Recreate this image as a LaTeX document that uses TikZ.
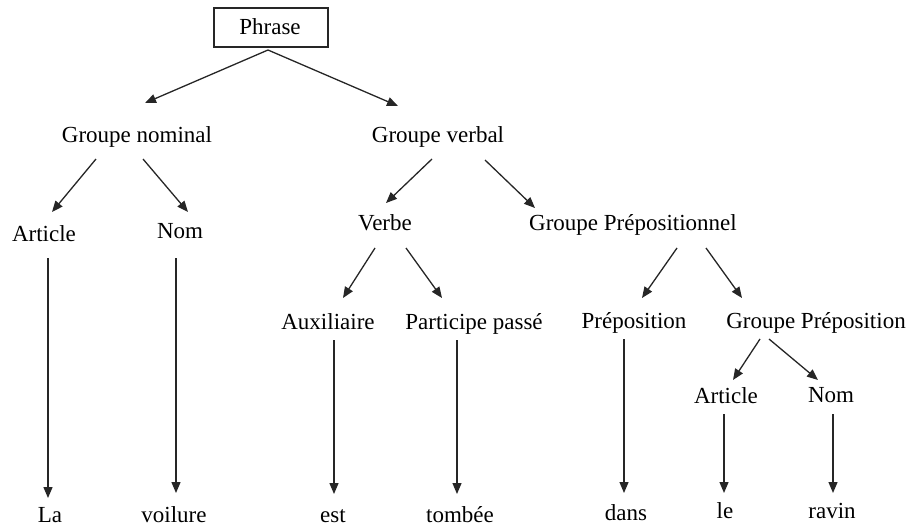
\documentclass[tikz,border=0pt]{standalone}
\usepackage{fontspec}
\setmainfont{Liberation Serif}
\usetikzlibrary{arrows.meta}
\begin{document}
\begin{tikzpicture}[x=1pt,y=-1pt,
  lbl/.style={anchor=base,inner sep=0pt,font=\fontsize{23}{27}\selectfont,text=black},
  arr/.style={draw=black!85,line width=1.3pt,-{Triangle[length=11pt,width=9pt]}}]
\useasboundingbox (0,0) rectangle (912,527);
% box
\node[draw=black!85,line width=1.2pt,minimum width=114pt,minimum height=39pt,inner sep=0pt] (box) at (271,27.5) {};
\node[lbl] (phrase) at (270,35) {Phrase};
\node[lbl] (gn) at (137,142) {Groupe nominal};
\node[lbl] (gv) at (438,142) {Groupe verbal};
\node[lbl] (art1) at (44,241) {Article};
\node[lbl] (nom1) at (180,238) {Nom};
\node[lbl] (verbe) at (385,230) {Verbe};
\node[lbl] (gp) at (633,230) {Groupe Prépositionnel};
\node[lbl] (aux) at (328,329) {Auxiliaire};
\node[lbl] (part) at (474,329) {Participe passé};
\node[lbl] (prep) at (634,328) {Préposition};
\node[lbl] (gprep) at (816,328) {Groupe Préposition};
\node[lbl] (art2) at (726,403) {Article};
\node[lbl] (nom2) at (831,402) {Nom};
\node[lbl] (la) at (50,522) {La};
\node[lbl] (voil) at (174,522) {voilure};
\node[lbl] (est) at (333,522) {est};
\node[lbl] (tomb) at (460,522) {tombée};
\node[lbl] (dans) at (626,520) {dans};
\node[lbl] (le) at (725,518) {le};
\node[lbl] (ravin) at (832,518) {ravin};
% arrow endpoints
\coordinate (ps) at (268,50);
\coordinate (pe1) at (145,103);
\coordinate (pe2) at (398,106);
\coordinate (gns1) at (96,159);  \coordinate (gne1) at (52,212);
\coordinate (gns2) at (143,159); \coordinate (gne2) at (188,212);
\coordinate (gvs1) at (432,159); \coordinate (gve1) at (386,203);
\coordinate (gvs2) at (485,160); \coordinate (gve2) at (535,208);
\coordinate (vs1) at (375,248);  \coordinate (ve1) at (343,298);
\coordinate (vs2) at (406,248);  \coordinate (ve2) at (442,298);
\coordinate (gps1) at (677,248); \coordinate (gpe1) at (642,298);
\coordinate (gps2) at (706,248); \coordinate (gpe2) at (742,298);
\coordinate (gprs1) at (760,339); \coordinate (gpre1) at (733,380);
\coordinate (gprs2) at (769,339); \coordinate (gpre2) at (818,380);
\coordinate (a1s) at (48,258);  \coordinate (a1e) at (48,498);
\coordinate (n1s) at (176,258); \coordinate (n1e) at (176,493);
\coordinate (aus) at (334,340); \coordinate (aue) at (334,494);
\coordinate (pas) at (457,340); \coordinate (pae) at (457,494);
\coordinate (prs) at (624,339); \coordinate (pre) at (624,493);
\coordinate (a2s) at (724,414); \coordinate (a2e) at (724,493);
\coordinate (n2s) at (833,414); \coordinate (n2e) at (833,493);
% arrows
\draw[arr] (ps) -- (pe1);
\draw[arr] (ps) -- (pe2);
\draw[arr] (gns1) -- (gne1);
\draw[arr] (gns2) -- (gne2);
\draw[arr] (gvs1) -- (gve1);
\draw[arr] (gvs2) -- (gve2);
\draw[arr] (vs1) -- (ve1);
\draw[arr] (vs2) -- (ve2);
\draw[arr] (gps1) -- (gpe1);
\draw[arr] (gps2) -- (gpe2);
\draw[arr] (gprs1) -- (gpre1);
\draw[arr] (gprs2) -- (gpre2);
\draw[arr] (a1s) -- (a1e);
\draw[arr] (n1s) -- (n1e);
\draw[arr] (aus) -- (aue);
\draw[arr] (pas) -- (pae);
\draw[arr] (prs) -- (pre);
\draw[arr] (a2s) -- (a2e);
\draw[arr] (n2s) -- (n2e);
\end{tikzpicture}
\end{document}
